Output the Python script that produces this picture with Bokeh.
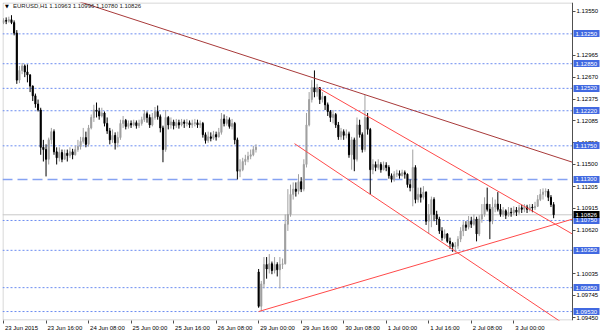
from bokeh.plotting import figure
from bokeh.models import (Label, FixedTicker, Range1d, NumeralTickFormatter,
                          ColumnDataSource, LinearAxis, BoxAnnotation)
from bokeh.embed import file_html
from bokeh.resources import INLINE

symbol = "EURUSD,H1"

opens = [1.1340, 1.1343, 1.1342, 1.1344, 1.1340, 1.1326, 1.1263, 1.1276, 1.1282, 1.1274,
         1.1270, 1.1255, 1.1242, 1.1231, 1.1223, 1.1173, 1.1170, 1.1157, 1.1183, 1.1194,
         1.1167, 1.1159, 1.1166, 1.1157, 1.1165, 1.1162, 1.1167, 1.1163, 1.1170, 1.1174,
         1.1181, 1.1186, 1.1177, 1.1199, 1.1213, 1.1223, 1.1221, 1.1215, 1.1219, 1.1205,
         1.1195, 1.1183, 1.1189, 1.1179, 1.1186, 1.1205, 1.1209, 1.1201, 1.1205, 1.1203,
         1.1206, 1.1202, 1.1205, 1.1210, 1.1218, 1.1213, 1.1203, 1.1213, 1.1221, 1.1214,
         1.1199, 1.1170, 1.1213, 1.1203, 1.1207, 1.1202, 1.1206, 1.1203, 1.1207, 1.1205,
         1.1206, 1.1203, 1.1205, 1.1206, 1.1203, 1.1205, 1.1190, 1.1182, 1.1187, 1.1185,
         1.1190, 1.1187, 1.1193, 1.1211, 1.1205, 1.1210, 1.1201, 1.1205, 1.1183, 1.1141,
         1.1143, 1.1154, 1.1157, 1.1161, 1.1163, 1.1170, 1.1006, 1.0960, 1.0990, 1.1016,
         1.1010, 1.1017, 1.1008, 1.1016, 1.1009, 1.1016, 1.1017, 1.1070, 1.1083, 1.1110,
         1.1117, 1.1114, 1.1127, 1.1117, 1.1150, 1.1203, 1.1237, 1.1253, 1.1247, 1.1253,
         1.1237, 1.1241, 1.1230, 1.1221, 1.1213, 1.1217, 1.1203, 1.1187, 1.1194, 1.1189,
         1.1191, 1.1163, 1.1183, 1.1157, 1.1203, 1.1190, 1.1170, 1.1213, 1.1197, 1.1143,
         1.1150, 1.1146, 1.1150, 1.1143, 1.1149, 1.1146, 1.1135, 1.1130, 1.1137, 1.1138,
         1.1135, 1.1139, 1.1137, 1.1123, 1.1119, 1.1146, 1.1103, 1.1110, 1.1106, 1.1113,
         1.1074, 1.1083, 1.1103, 1.1083, 1.1077, 1.1061, 1.1052, 1.1057, 1.1047, 1.1044,
         1.1040, 1.1041, 1.1050, 1.1061, 1.1069, 1.1066, 1.1074, 1.1070, 1.1077, 1.1057,
         1.1077, 1.1083, 1.1097, 1.1090, 1.1074, 1.1093, 1.1097, 1.1090, 1.1083, 1.1088,
         1.1082, 1.1086, 1.1085, 1.1089, 1.1086, 1.1092, 1.1090, 1.1093, 1.1090, 1.1093,
         1.1092, 1.1094, 1.1103, 1.1110, 1.1113, 1.1114, 1.1106, 1.10963]

highs = [1.1346, 1.1347, 1.1348, 1.1350, 1.1343, 1.1330, 1.1282, 1.1286, 1.1284, 1.1284,
         1.1271, 1.1256, 1.1245, 1.1237, 1.1226, 1.1183, 1.1177, 1.1186, 1.1199, 1.1197,
         1.1173, 1.1173, 1.1170, 1.1170, 1.1170, 1.1173, 1.1171, 1.1175, 1.1183, 1.1187,
         1.1199, 1.1194, 1.1203, 1.1217, 1.1230, 1.1233, 1.1226, 1.1226, 1.1221, 1.1213,
         1.1199, 1.1197, 1.1193, 1.1194, 1.1210, 1.1215, 1.1211, 1.1209, 1.1209, 1.1210,
         1.1209, 1.1210, 1.1214, 1.1223, 1.1221, 1.1217, 1.1219, 1.1227, 1.1229, 1.1217,
         1.1202, 1.1223, 1.1215, 1.1213, 1.1210, 1.1211, 1.1210, 1.1211, 1.1210, 1.1211,
         1.1209, 1.1210, 1.1211, 1.1210, 1.1209, 1.1207, 1.1193, 1.1194, 1.1193, 1.1195,
         1.1194, 1.1199, 1.1219, 1.1217, 1.1215, 1.1213, 1.1211, 1.1207, 1.1186, 1.1157,
         1.1159, 1.1163, 1.1167, 1.1170, 1.1175, 1.1177, 1.1010, 1.0994, 1.1026, 1.1026,
         1.1030, 1.1020, 1.1026, 1.1019, 1.1026, 1.1024, 1.1083, 1.1117, 1.1123, 1.1126,
         1.1126, 1.1137, 1.1133, 1.1157, 1.1219, 1.1247, 1.1263, 1.1276, 1.1258, 1.1253,
         1.1247, 1.1242, 1.1233, 1.1223, 1.1223, 1.1219, 1.1207, 1.1199, 1.1197, 1.1197,
         1.1194, 1.1187, 1.1186, 1.1213, 1.1210, 1.1193, 1.1243, 1.1219, 1.1199, 1.1157,
         1.1154, 1.1157, 1.1153, 1.1154, 1.1153, 1.1149, 1.1138, 1.1141, 1.1143, 1.1142,
         1.1143, 1.1142, 1.1138, 1.1130, 1.1170, 1.1149, 1.1119, 1.1119, 1.1121, 1.1114,
         1.1097, 1.1107, 1.1106, 1.1088, 1.1080, 1.1066, 1.1063, 1.1058, 1.1052, 1.1046,
         1.1046, 1.1054, 1.1066, 1.1074, 1.1074, 1.1081, 1.1080, 1.1083, 1.1080, 1.1082,
         1.1097, 1.1106, 1.1119, 1.1097, 1.1106, 1.1103, 1.1113, 1.1097, 1.1093, 1.1090,
         1.1093, 1.1092, 1.1094, 1.1093, 1.1096, 1.1096, 1.1097, 1.1096, 1.1097, 1.1097,
         1.1100, 1.1109, 1.1117, 1.1118, 1.1118, 1.1117, 1.1109, 1.10996]

lows = [1.1338, 1.1338, 1.1340, 1.1338, 1.1323, 1.1258, 1.1259, 1.1271, 1.1267, 1.1260,
        1.1247, 1.1235, 1.1226, 1.1221, 1.1163, 1.1154, 1.1134, 1.1150, 1.1177, 1.1163,
        1.1150, 1.1154, 1.1153, 1.1157, 1.1154, 1.1159, 1.1157, 1.1162, 1.1167, 1.1170,
        1.1178, 1.1173, 1.1174, 1.1197, 1.1207, 1.1213, 1.1210, 1.1213, 1.1201, 1.1191,
        1.1177, 1.1179, 1.1170, 1.1173, 1.1183, 1.1199, 1.1197, 1.1198, 1.1199, 1.1201,
        1.1198, 1.1199, 1.1202, 1.1207, 1.1206, 1.1199, 1.1201, 1.1210, 1.1210, 1.1193,
        1.1153, 1.1167, 1.1197, 1.1198, 1.1197, 1.1199, 1.1198, 1.1201, 1.1199, 1.1201,
        1.1199, 1.1199, 1.1201, 1.1199, 1.1199, 1.1186, 1.1178, 1.1179, 1.1181, 1.1183,
        1.1182, 1.1186, 1.1190, 1.1201, 1.1202, 1.1198, 1.1197, 1.1177, 1.1130, 1.1133,
        1.1141, 1.1149, 1.1153, 1.1157, 1.1161, 1.1166, 1.0958, 1.0953, 1.0984, 1.0997,
        1.1004, 1.1003, 1.1004, 1.1000, 1.0984, 1.1010, 1.1016, 1.1061, 1.1080, 1.1103,
        1.1107, 1.1110, 1.1113, 1.1114, 1.1146, 1.1201, 1.1233, 1.1240, 1.1241, 1.1231,
        1.1233, 1.1223, 1.1215, 1.1207, 1.1205, 1.1199, 1.1183, 1.1183, 1.1183, 1.1185,
        1.1159, 1.1143, 1.1141, 1.1154, 1.1186, 1.1166, 1.1167, 1.1190, 1.1110, 1.1137,
        1.1141, 1.1143, 1.1139, 1.1142, 1.1141, 1.1131, 1.1126, 1.1127, 1.1133, 1.1131,
        1.1134, 1.1131, 1.1119, 1.1114, 1.1094, 1.1098, 1.1099, 1.1099, 1.1103, 1.1069,
        1.1057, 1.1066, 1.1074, 1.1069, 1.1057, 1.1048, 1.1050, 1.1045, 1.1037, 1.1033,
        1.1032, 1.1037, 1.1046, 1.1054, 1.1061, 1.1063, 1.1065, 1.1068, 1.1047, 1.1054,
        1.1072, 1.1080, 1.1087, 1.1050, 1.1070, 1.1086, 1.1087, 1.1080, 1.1080, 1.1077,
        1.1080, 1.1080, 1.1082, 1.1081, 1.1083, 1.1085, 1.1086, 1.1085, 1.1087, 1.1086,
        1.1089, 1.1093, 1.1101, 1.1103, 1.1107, 1.1101, 1.1093, 1.10780]

closes = [1.1343, 1.1342, 1.1344, 1.1340, 1.1326, 1.1263, 1.1276, 1.1282, 1.1274, 1.1270,
          1.1255, 1.1242, 1.1231, 1.1223, 1.1173, 1.1170, 1.1157, 1.1183, 1.1194, 1.1167,
          1.1159, 1.1166, 1.1157, 1.1165, 1.1162, 1.1167, 1.1163, 1.1170, 1.1174, 1.1181,
          1.1186, 1.1177, 1.1199, 1.1213, 1.1223, 1.1221, 1.1215, 1.1219, 1.1205, 1.1195,
          1.1183, 1.1189, 1.1179, 1.1186, 1.1205, 1.1209, 1.1201, 1.1205, 1.1203, 1.1206,
          1.1202, 1.1205, 1.1210, 1.1218, 1.1213, 1.1203, 1.1213, 1.1221, 1.1214, 1.1199,
          1.1170, 1.1213, 1.1203, 1.1207, 1.1202, 1.1206, 1.1203, 1.1207, 1.1205, 1.1206,
          1.1203, 1.1205, 1.1206, 1.1203, 1.1205, 1.1190, 1.1182, 1.1187, 1.1185, 1.1190,
          1.1187, 1.1193, 1.1211, 1.1205, 1.1210, 1.1201, 1.1205, 1.1183, 1.1141, 1.1143,
          1.1154, 1.1157, 1.1161, 1.1163, 1.1170, 1.1173, 1.0960, 1.0990, 1.1016, 1.1010,
          1.1017, 1.1008, 1.1016, 1.1009, 1.1016, 1.1017, 1.1070, 1.1083, 1.1110, 1.1117,
          1.1114, 1.1127, 1.1117, 1.1150, 1.1203, 1.1237, 1.1253, 1.1247, 1.1253, 1.1237,
          1.1241, 1.1230, 1.1221, 1.1213, 1.1217, 1.1203, 1.1187, 1.1194, 1.1189, 1.1191,
          1.1163, 1.1183, 1.1157, 1.1203, 1.1190, 1.1170, 1.1213, 1.1197, 1.1143, 1.1150,
          1.1146, 1.1150, 1.1143, 1.1149, 1.1146, 1.1135, 1.1130, 1.1137, 1.1138, 1.1135,
          1.1139, 1.1137, 1.1123, 1.1119, 1.1146, 1.1103, 1.1110, 1.1106, 1.1113, 1.1074,
          1.1083, 1.1103, 1.1083, 1.1077, 1.1061, 1.1052, 1.1057, 1.1047, 1.1044, 1.1040,
          1.1041, 1.1050, 1.1061, 1.1069, 1.1066, 1.1074, 1.1070, 1.1077, 1.1057, 1.1077,
          1.1083, 1.1097, 1.1090, 1.1074, 1.1093, 1.1097, 1.1090, 1.1083, 1.1088, 1.1082,
          1.1086, 1.1085, 1.1089, 1.1086, 1.1092, 1.1090, 1.1093, 1.1090, 1.1093, 1.1092,
          1.1094, 1.1103, 1.1110, 1.1113, 1.1114, 1.1106, 1.10963, 1.10826]

time_label_bars = [0, 16, 32, 48, 64, 80, 96, 112, 128, 144, 160, 176, 192]
time_labels = ["23 Jun 2015", "23 Jun 16:00", "24 Jun 08:00", "25 Jun 00:00", "25 Jun 16:00",
               "26 Jun 08:00", "29 Jun 00:00", "29 Jun 16:00", "30 Jun 08:00", "1 Jul 00:00",
               "1 Jul 16:00", "2 Jul 08:00", "3 Jul 00:00"]

price_ticks = [1.13550, 1.12965, 1.12670, 1.12375, 1.12085, 1.11790, 1.11500, 1.11205,
               1.10915, 1.10620, 1.10035, 1.09745, 1.09450]
level_prices = [1.13250, 1.12850, 1.12520, 1.12220, 1.11750, 1.11300, 1.10750, 1.10350,
                1.09850, 1.09530]
level_kinds = ["dot", "dot", "dot", "dot", "dot", "dash", "dot", "dot", "dot", "dot"]

# trend lines: (bar1, price1, bar2, price2, extend_left)
trend_main = (66.6, 1.13240, 214.1, 1.11530, True)
channel_top = (118.5, 1.12525, 214.1, 1.10568, False)
channel_bottom = (109.5, 1.11779, 208.4, 1.09423, False)
support_line = (96.0, 1.09530, 214.1, 1.10768, False)

# ---------------------------------------------------------------- layout
W, H = 600, 333
FL, FT, FB = 2, 2, 11
SCALE_W = 28                    # price scale strip inside the frame, on the right
FW, FH = W - FL, H - FT - FB
X0, XE = -0.38, 214.1           # chart area in bar units (left edge .. price-scale edge)
PPX = (FW - SCALE_W) / (XE - X0)
X1 = X0 + FW / PPX
Y0, Y1 = 1.09410, 1.13670
PPY = FH / (Y1 - Y0)
FONT = "Liberation Sans"
FS = "6px"
AXC = "#505050"

p = figure(width=W, height=H, x_range=Range1d(X0, X1), y_range=Range1d(Y0, Y1),
           y_axis_location=None, output_backend="svg", toolbar_location=None,
           min_border_left=FL, min_border_top=FT, min_border_right=0, min_border_bottom=FB,
           background_fill_color="white", border_fill_color="white")
p.grid.visible = False
p.outline_line_color = None

# chart border (left/top/bottom; right edge is the price axis line)
p.add_layout(BoxAnnotation(left=X0 + 0.5 / PPX, right=XE, bottom=Y0 + 0.5 / PPY,
                           top=Y1 - 0.5 / PPY, fill_alpha=0, line_color=AXC, line_width=1,
                           level="underlay"))

# horizontal levels
for v, k in zip(level_prices, level_kinds):
    if k == "dash":
        p.segment(x0=[X0], y0=[v], x1=[XE], y1=[v], line_color="#86a2f2",
                  line_dash="10 5", line_width=1.5)
    else:
        p.segment(x0=[X0], y0=[v], x1=[XE], y1=[v], line_color="#6b8cf0",
                  line_dash="2 2", line_width=1)
p.segment(x0=[X0], y0=[closes[-1]], x1=[XE], y1=[closes[-1]], line_color="#c8c8c8", line_width=1)

# candles
bars = list(range(len(closes)))
colors = ["#a0a0a0" if c >= o else "#000000" for o, c in zip(opens, closes)]
src = ColumnDataSource(dict(
    x=bars, h=highs, l=lows,
    top=[max(o, c) for o, c in zip(opens, closes)],
    bottom=[min(o, c) for o, c in zip(opens, closes)],
    color=colors))
p.segment(x0="x", y0="l", x1="x", y1="h", line_color="color", line_width=1, source=src)
p.vbar(x="x", top="top", bottom="bottom", width=0.4, fill_color="color",
       line_color="color", line_width=1, source=src)

# trend lines (rays end at the price scale)
def ray(b1, p1, b2, p2, left):
    slope = (p2 - p1) / (b2 - b1)
    xs = X0 - 2 if left else b1
    return [xs, XE], [p1 + slope * (xs - b1), p1 + slope * (XE - b1)]

for spec, col in [(trend_main, "#a83a3a"), (channel_top, "#ff4a4a"),
                  (channel_bottom, "#ff4a4a"), (support_line, "#ff4a4a")]:
    xs, ys = ray(*spec)
    p.line(xs, ys, line_color=col, line_width=1)

# time axis
CW = {" ": 0.278, ":": 0.278, "J": 0.5, "u": 0.556, "n": 0.556, "l": 0.222}
def text_w(s):
    return sum(CW.get(ch, 0.556) for ch in s) * 6.0

centers = [round(b + (1.5 + 0.5 * text_w(t)) / PPX, 2) for b, t in zip(time_label_bars, time_labels)]
p.xaxis.ticker = FixedTicker(ticks=centers, minor_ticks=time_label_bars)
p.xaxis.major_label_overrides = {c: t for c, t in zip(centers, time_labels)}
p.xaxis.major_tick_out = 0
p.xaxis.major_tick_in = 0
p.xaxis.minor_tick_out = 3
p.xaxis.minor_tick_in = 0
p.xaxis.minor_tick_line_color = AXC
p.xaxis.major_label_standoff = 1
p.xaxis.axis_line_color = None
p.xaxis.major_label_text_font = FONT
p.xaxis.major_label_text_font_size = FS
p.xaxis.major_label_text_color = "#000000"

# price axis pinned at the scale edge
yax = LinearAxis(fixed_location=XE, ticker=FixedTicker(ticks=price_ticks, minor_ticks=[]),
                 formatter=NumeralTickFormatter(format="0.00000"))
yax.major_tick_out = 3
yax.major_tick_in = 0
yax.minor_tick_out = 0
yax.minor_tick_in = 0
yax.major_label_standoff = 1
yax.axis_line_color = AXC
yax.major_tick_line_color = AXC
yax.major_label_text_font = FONT
yax.major_label_text_font_size = FS
yax.major_label_text_color = "#000000"
p.add_layout(yax, "right")

# price boxes on the scale
def box_axis(values, fill):
    ax = LinearAxis(fixed_location=XE, ticker=FixedTicker(ticks=values, minor_ticks=[]),
                    formatter=NumeralTickFormatter(format="0.00000"))
    ax.axis_line_color = None
    ax.major_tick_line_color = fill
    ax.major_tick_line_width = 7
    ax.major_tick_line_cap = "butt"
    ax.major_tick_out = 27
    ax.major_tick_in = -1
    ax.minor_tick_out = 0
    ax.minor_tick_in = 0
    ax.major_label_standoff = -24
    ax.major_label_text_font = FONT
    ax.major_label_text_font_size = FS
    ax.major_label_text_color = "white"
    p.add_layout(ax, "right")

box_axis(level_prices, "#4169e1")
box_axis([closes[-1]], "#000000")

# chart title
title = f"{symbol}  {opens[-1]:.5f} {highs[-1]:.5f} {lows[-1]:.5f} {closes[-1]:.5f}"
p.add_layout(Label(x=X0 + 10.5 / PPX, y=Y1 - 4.0 / PPY, text=title, text_font=FONT,
                   text_font_size=FS, text_color="#202020", text_align="left",
                   text_baseline="middle"))
p.add_layout(Label(x=X0 + 4.5 / PPX, y=Y1 - 4.0 / PPY, text="\u25bc", text_font="DejaVu Sans",
                   text_font_size="5px", text_color="#000000", text_align="center",
                   text_baseline="middle"))

open("out.html", "w").write(file_html(p, INLINE))
